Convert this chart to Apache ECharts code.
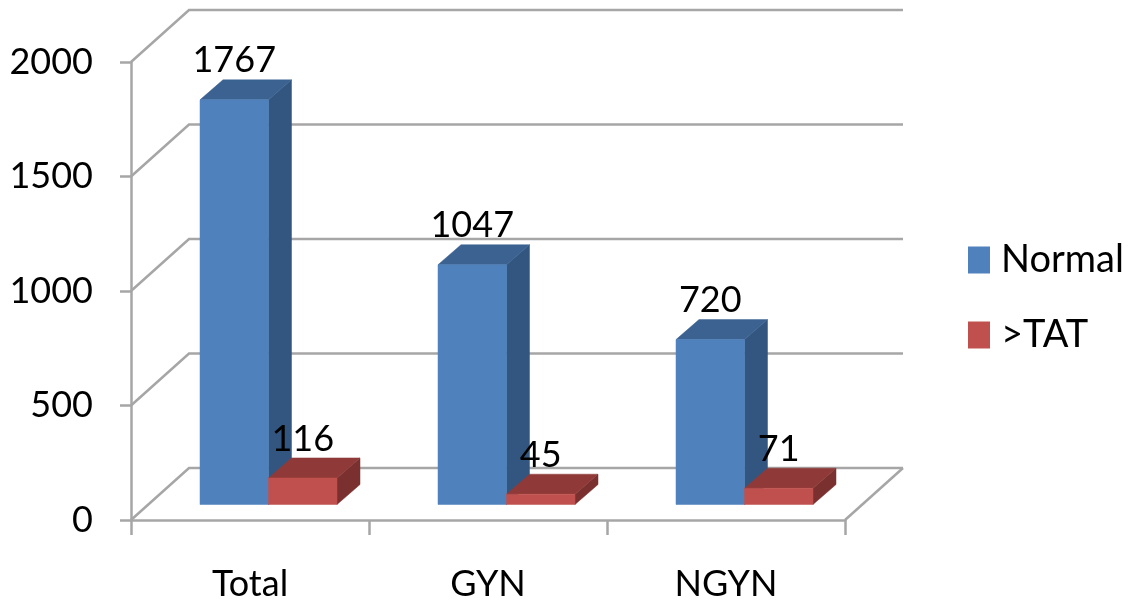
<!DOCTYPE html>
<html><head><meta charset="utf-8">
<style>html,body{margin:0;padding:0;background:#fff}#c{width:1130px;height:603px}</style>
<script src="https://cdn.jsdelivr.net/npm/echarts@6/dist/echarts.min.js"></script>
</head><body><div id="c"></div>
<script>
const categories = ['Total', 'GYN', 'NGYN'];
const normalValues = [1767, 1047, 720];
const tatValues = [116, 45, 71];
const yTicks = [0, 500, 1000, 1500, 2000];

const FONT = 'Lato,"Open Sans",sans-serif';
const FS = 36;
const WALL = {dx: 58, dy: -52};
const BASE = {dx: 18.5, dy: -15.5};
const DEPTH = {dx: 23, dy: -20};
const BAR_W = 68.5;
const GRID_COLOR = '#a6a6a6';
const LW = 2.5;

function barSeries(name, values, side, front, top, right) {
  return {
    type: 'custom', name, coordinateSystem: 'cartesian2d', z: 3,
    itemStyle: {color: front},
    encode: {x: 0, y: 1},
    data: values.map((v, i) => [i, v]),
    renderItem(params, api) {
      const c = api.coord([api.value(0), api.value(1)]);
      const z = api.coord([api.value(0), 0]);
      const x0 = c[0] + BASE.dx + (side === 0 ? -BAR_W : 0);
      const x1 = x0 + BAR_W;
      const yB = z[1] + BASE.dy;
      const yT = c[1] + BASE.dy;
      const dx = DEPTH.dx, dy = DEPTH.dy;
      const poly = (points, fill) => ({type: 'polygon', shape: {points}, style: {fill, stroke: fill, lineWidth: 0.5}});
      return {type: 'group', children: [
        poly([[x1, yB], [x1 + dx, yB + dy], [x1 + dx, yT + dy], [x1, yT]], right),
        poly([[x0, yT], [x1, yT], [x1 + dx, yT + dy], [x0 + dx, yT + dy]], top),
        poly([[x0, yB], [x1, yB], [x1, yT], [x0, yT]], front),
        {type: 'text', z2: 50, style: {
          x: (x0 + x1) / 2, y: yT + dy - 19, text: String(api.value(1)),
          font: FS + 'px ' + FONT, fill: '#000', align: 'center', verticalAlign: 'middle'
        }}
      ]};
    }
  };
}

const wallSeries = {
  type: 'custom', coordinateSystem: 'cartesian2d', silent: true, z: 1,
  data: yTicks.map(v => [0, v]),
  encode: {y: 1},
  renderItem(params, api) {
    const cs = params.coordSys;
    const y = api.coord([0, api.value(1)])[1];
    const L = cs.x, R = cs.x + cs.width;
    const st = {stroke: GRID_COLOR, lineWidth: LW, fill: null};
    const ch = [
      {type: 'polyline', shape: {points: [[L, y], [L + WALL.dx, y + WALL.dy], [R + WALL.dx, y + WALL.dy]]}, style: st}
    ];
    if (api.value(1) === 0) {
      ch.push({type: 'line', shape: {x1: R, y1: y, x2: R + WALL.dx, y2: y + WALL.dy}, style: st});
    }
    return {type: 'group', children: ch};
  }
};

const chart = echarts.init(document.getElementById('c'), null, {renderer: 'canvas'});
const axisLine = {show: true, lineStyle: {color: GRID_COLOR, width: LW}};
chart.setOption({
  animation: false,
  backgroundColor: '#fff',
  grid: {left: 131, right: 285, top: 62, bottom: 83, containLabel: false, outerBoundsMode: 'none'},
  legend: {
    show: true, orient: 'vertical', left: 963, top: 236, itemWidth: 22, itemHeight: 27, itemGap: 37,
    icon: 'rect', data: ['Normal', '>TAT'],
    textStyle: {fontFamily: FONT, fontSize: 38, color: '#000', padding: [0, 0, 0, 6]}
  },
  xAxis: {
    type: 'category', data: categories,
    axisLine, axisTick: {show: true, length: 15, alignWithLabel: false, lineStyle: {color: GRID_COLOR, width: LW}},
    axisLabel: {fontFamily: FONT, fontSize: FS, color: '#000', margin: 46, interval: 0},
    splitLine: {show: false}
  },
  yAxis: {
    type: 'value', min: 0, max: 2000, interval: 500,
    axisLine, axisTick: {show: true, length: 11, lineStyle: {color: GRID_COLOR, width: LW}},
    axisLabel: {fontFamily: FONT, fontSize: FS, color: '#000', margin: 38, formatter: v => String(v)},
    splitLine: {show: false}
  },
  series: [
    wallSeries,
    barSeries('Normal', normalValues, 0, '#4F81BD', '#3B6290', '#335680'),
    barSeries('>TAT', tatValues, 1, '#C0504D', '#8F3A38', '#7A302E')
  ]
});
</script></body></html>
